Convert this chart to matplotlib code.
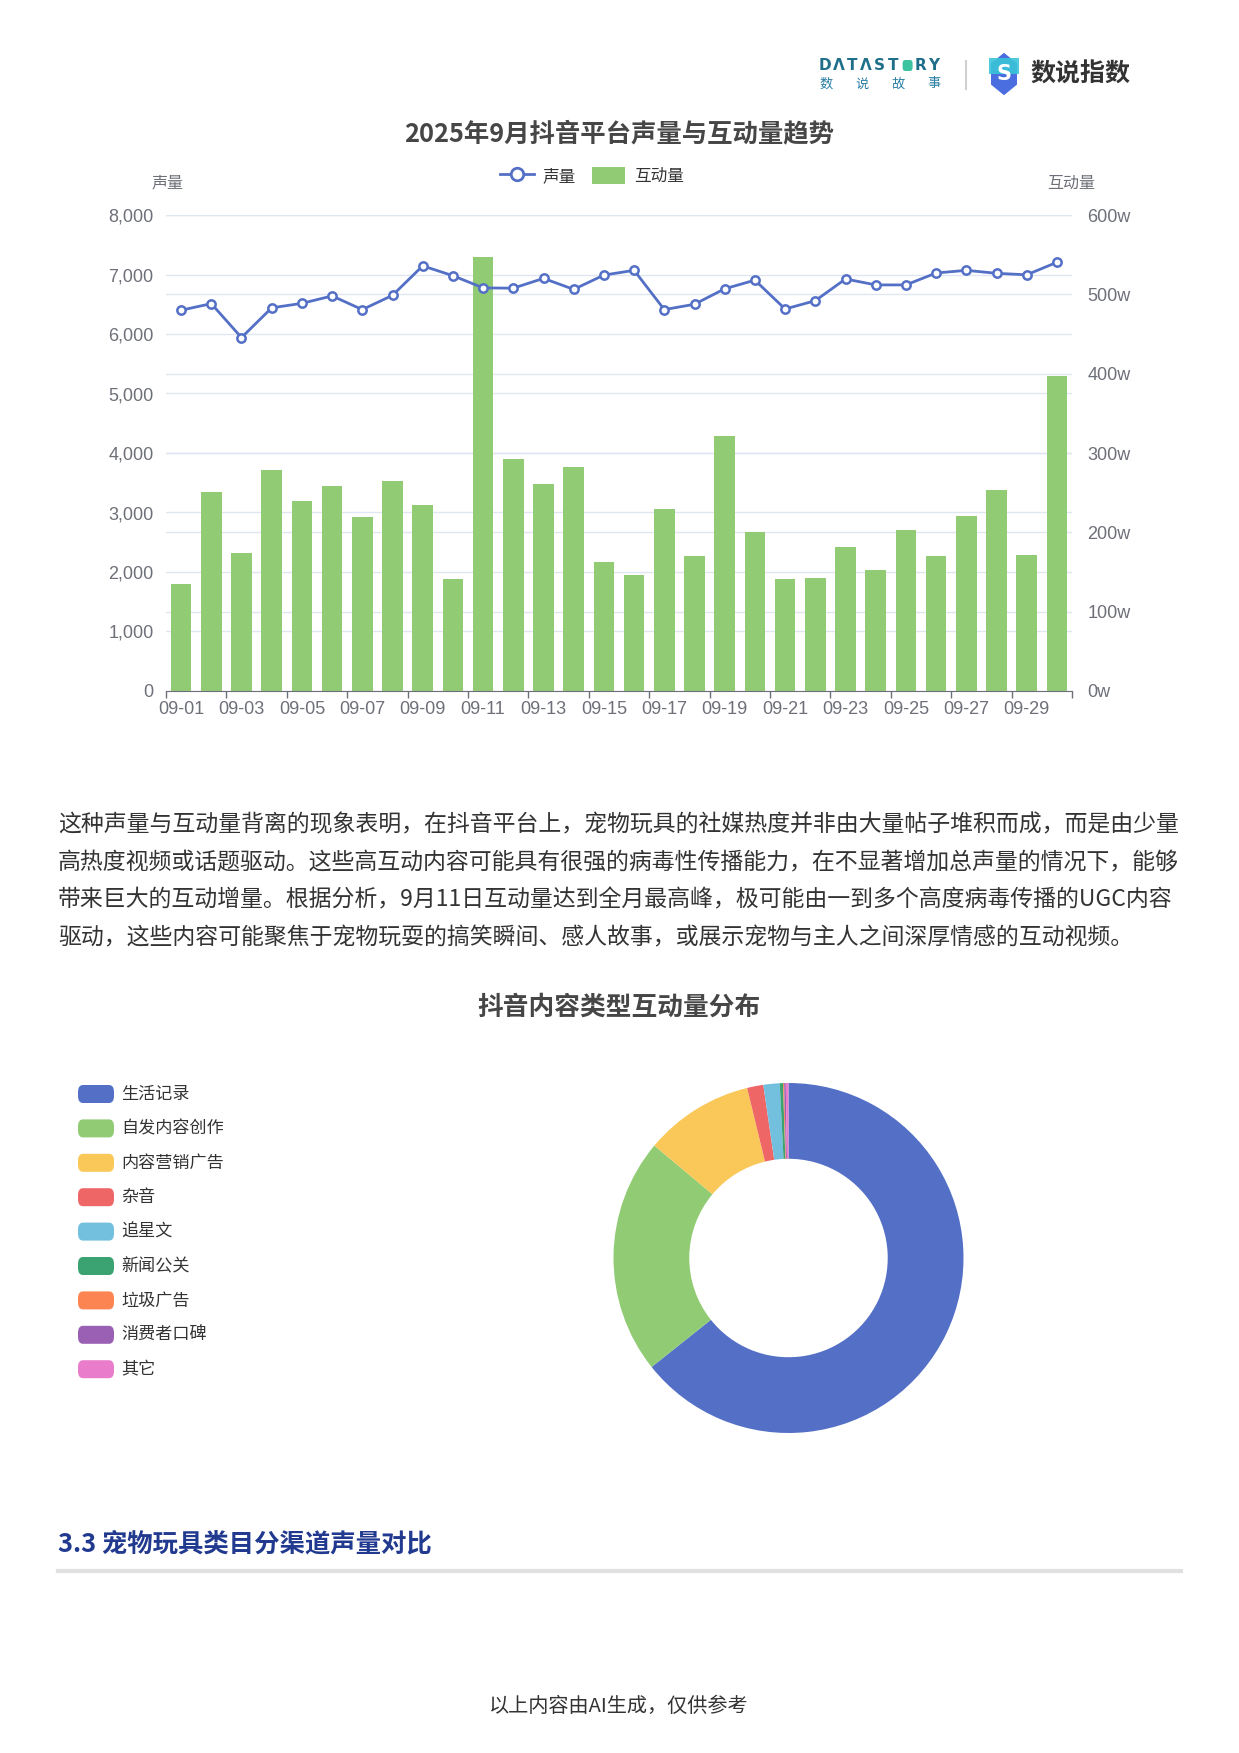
"""
douyin pet toys report page: volume vs interaction trend + interaction type donut
"""

import numpy as np
import matplotlib

matplotlib.use("Agg")
import matplotlib.pyplot as plt
import matplotlib.transforms as mtransforms
from matplotlib.lines import Line2D
from matplotlib.patches import Patch, FancyBboxPatch, RegularPolygon, Rectangle

plt.rcParams["font.family"] = ["Noto Sans CJK SC", "DejaVu Sans"]

# ---- data ----
dates = ["09-01", "09-02", "09-03", "09-04", "09-05", "09-06", "09-07", "09-08",
         "09-09", "09-10", "09-11", "09-12", "09-13", "09-14", "09-15", "09-16",
         "09-17", "09-18", "09-19", "09-20", "09-21", "09-22", "09-23", "09-24",
         "09-25", "09-26", "09-27", "09-28", "09-29", "09-30"]
volume = [6400, 6510, 5940, 6440, 6515, 6640, 6410, 6650, 7145, 6980,
          6775, 6770, 6935, 6750, 6990, 7070, 6410, 6500, 6760, 6905,
          6420, 6560, 6925, 6825, 6825, 7025, 7070, 7020, 6995, 7205]
interaction_w = [135, 251, 174, 279, 240, 258, 219, 265, 234, 141,
                 547, 293, 261, 282, 162, 146, 230, 170, 321, 200,
                 141, 142, 182, 153, 203, 170, 221, 253, 172, 397]
volume_ticks = [0, 1000, 2000, 3000, 4000, 5000, 6000, 7000, 8000]
interaction_ticks = [0, 100, 200, 300, 400, 500, 600]

pie_labels = ["生活记录", "自发内容创作", "内容营销广告", "杂音", "追星文",
              "新闻公关", "垃圾广告", "消费者口碑", "其它"]
pie_values = [64.3, 21.8, 10.1, 1.5, 1.5, 0.3, 0.1, 0.15, 0.25]
pie_colors = ["#5470c6", "#91cc75", "#fac858", "#ee6666", "#73c0de",
              "#3ba272", "#fc8452", "#9a60b4", "#ea7ccc"]

paragraph = [
    "这种声量与互动量背离的现象表明，在抖音平台上，宠物玩具的社媒热度并非由大量帖子堆积而成，而是由少量",
    "高热度视频或话题驱动。这些高互动内容可能具有很强的病毒性传播能力，在不显著增加总声量的情况下，能够",
    "带来巨大的互动增量。根据分析，9月11日互动量达到全月最高峰，极可能由一到多个高度病毒传播的UGC内容",
    "驱动，这些内容可能聚焦于宠物玩耍的搞笑瞬间、感人故事，或展示宠物与主人之间深厚情感的互动视频。",
]

W, H = 1239, 1753
AXIS_GRAY = "#6E7079"
GRID = "#E0E6F1"


def fx(px):
    return px / W


def fy(py):
    return 1 - py / H


fig = plt.figure(figsize=(W / 100, H / 100), dpi=100)

# ---- header logo ----
for i, ch in enumerate("DΛTΛST RY"):
    if ch == " ":
        fig.add_artist(FancyBboxPatch((fx(819 + i * 13.6 + 2), fy(71)), fx(10), fy(60) - fy(71),
                                      boxstyle="round,pad=0,rounding_size=0.002",
                                      transform=fig.transFigure, color="#3cc3a0", lw=0))
        continue
    fig.text(fx(825 + i * 13.6), fy(66), ch, ha="center", va="center", fontsize=11,
             fontweight="bold", color="#1f6f8b", family="DejaVu Sans")
for i, ch in enumerate("数说故事"):
    fig.text(fx(826 + i * 36), fy(84), ch, ha="center", va="center", fontsize=9.5,
             color="#2a7fa5")
fig.add_artist(Line2D([fx(966), fx(966)], [fy(61), fy(89)], transform=fig.transFigure,
                      color="#d0d0d0", lw=1.5))
fig.add_artist(RegularPolygon((fx(1004), fy(74)), 6, radius=fx(15), orientation=0,
                              transform=fig.transFigure, color="#4a6de0", lw=0))
fig.add_artist(Rectangle((fx(989), fy(74)), fx(30), fy(58) - fy(74),
                         transform=fig.transFigure, color="#39c5d9", lw=0, alpha=0.9, clip_on=False))
fig.text(fx(1004), fy(74), "S", ha="center", va="center", fontsize=15, fontweight="bold",
         color="white", family="DejaVu Sans")
fig.text(fx(1030), fy(75), "数说指数", ha="left", va="center", fontsize=18,
         fontweight="bold", color="#333333")

# ---- line / bar chart ----
fig.text(fx(619), fy(134), "2025年9月抖音平台声量与互动量趋势", ha="center", va="center",
         fontsize=18.3, fontweight="bold", color="#464646")

ax_bar = fig.add_axes([fx(166), fy(691), fx(1072) - fx(166), fy(215) - fy(691)])
ax_line = ax_bar.twinx()

x = np.arange(len(dates))
ax_bar.bar(x, interaction_w, width=0.68, color="#91cc75", zorder=3)
ax_bar.set_xlim(-0.5, len(dates) - 0.5)
ax_bar.set_ylim(0, 600)
ax_bar.yaxis.tick_right()
ax_bar.set_yticks(interaction_ticks, labels=["{}w".format(v) for v in interaction_ticks],
                  fontfamily="Liberation Sans")
ax_bar.tick_params(axis="y", left=False, labelleft=False, right=True, labelright=True,
                   length=0, pad=11, labelsize=13, labelcolor=AXIS_GRAY)
ax_bar.grid(axis="y", color=GRID, lw=1)
ax_bar.set_axisbelow(True)
for s in ["top", "left", "right"]:
    ax_bar.spines[s].set_visible(False)
ax_bar.spines["bottom"].set_color(AXIS_GRAY)
ax_bar.spines["bottom"].set_zorder(4)

ax_bar.set_xticks(np.arange(-0.5, len(dates), 2), labels=[])
ax_bar.set_xticks(x[::2], labels=dates[::2], minor=True, fontfamily="Liberation Sans")
ax_bar.tick_params(axis="x", which="major", length=5, color=AXIS_GRAY, width=1)
ax_bar.tick_params(axis="x", which="minor", length=0, pad=7, labelsize=13,
                   labelcolor=AXIS_GRAY)

ax_line.set_ylim(0, 8000)
ax_line.set_yticks(volume_ticks, labels=["{:,}".format(v) for v in volume_ticks],
                   fontfamily="Liberation Sans")
ax_line.tick_params(axis="y", left=True, labelleft=True, right=False, labelright=False,
                    length=0, pad=9, labelsize=13, labelcolor=AXIS_GRAY)
for s in ax_line.spines.values():
    s.set_visible(False)

# left-scale gridlines, drawn under the bars
trans = mtransforms.blended_transform_factory(ax_bar.transAxes, ax_line.transData)
for v in volume_ticks[1:]:
    ax_bar.plot([0, 1], [v, v], transform=trans, color=GRID, lw=1, zorder=1)

ax_line.plot(x, volume, color="#5470c6", lw=2, marker="o", ms=6, mfc="white",
             mec="#5470c6", mew=1.8, zorder=5)

fig.text(fx(168), fy(183), "声量", ha="center", va="center", fontsize=11.5, color=AXIS_GRAY)
fig.text(fx(1071), fy(183), "互动量", ha="center", va="center", fontsize=11.5, color=AXIS_GRAY)

fig.legend(
    handles=[
        Line2D([], [], color="#5470c6", lw=2, marker="o", ms=9, mfc="white", mec="#5470c6", mew=2),
        Patch(facecolor="#91cc75", edgecolor="none"),
    ],
    labels=["声量", "互动量"],
    loc="center", bbox_to_anchor=(fx(592), fy(176)), ncol=2, frameon=False,
    fontsize=12, handlelength=2.0, handleheight=1.2, columnspacing=1.0,
    handletextpad=0.5, labelcolor="#333333",
)

# ---- paragraph ----
for i, line in enumerate(paragraph):
    fig.text(fx(58), fy(825 + i * 37.5), line, ha="left", va="center", fontsize=16.5,
             color="#333333")

# ---- donut ----
fig.text(fx(619), fy(1007), "抖音内容类型互动量分布", ha="center", va="center",
         fontsize=18.5, fontweight="bold", color="#464646")

cx, cy, r = 788.5, 1258, 175
ax_pie = fig.add_axes([fx(cx - r), fy(cy + r), fx(2 * r), fy(cy - r) - fy(cy + r)])
ax_pie.pie(pie_values, colors=pie_colors, startangle=90, counterclock=False, radius=1,
           wedgeprops=dict(width=0.433, linewidth=0))
ax_pie.set_xlim(-1, 1)
ax_pie.set_ylim(-1, 1)
ax_pie.set_aspect("equal")
ax_pie.axis("off")

for i, (lab, col) in enumerate(zip(pie_labels, pie_colors)):
    yy = 1094 + i * 34.4
    fig.add_artist(FancyBboxPatch((fx(78), fy(yy + 9)), fx(36), fy(yy - 9) - fy(yy + 9),
                                  boxstyle="round,pad=0,rounding_size=0.004",
                                  transform=fig.transFigure, color=col, lw=0))
    fig.text(fx(121), fy(yy), lab, ha="left", va="center", fontsize=12.3, color="#333333")

# ---- section heading + footer ----
fig.text(fx(58), fy(1544), "3.3 宠物玩具类目分渠道声量对比", ha="left", va="center",
         fontsize=18.3, fontweight="bold", color="#213a8f")
fig.add_artist(Line2D([fx(58), fx(1181)], [fy(1571), fy(1571)], transform=fig.transFigure,
                      color="#e0e0e0", lw=3))
fig.text(fx(619), fy(1706), "以上内容由AI生成，仅供参考", ha="center", va="center",
         fontsize=14.5, color="#333333")

fig.savefig("out.png", dpi=100)
